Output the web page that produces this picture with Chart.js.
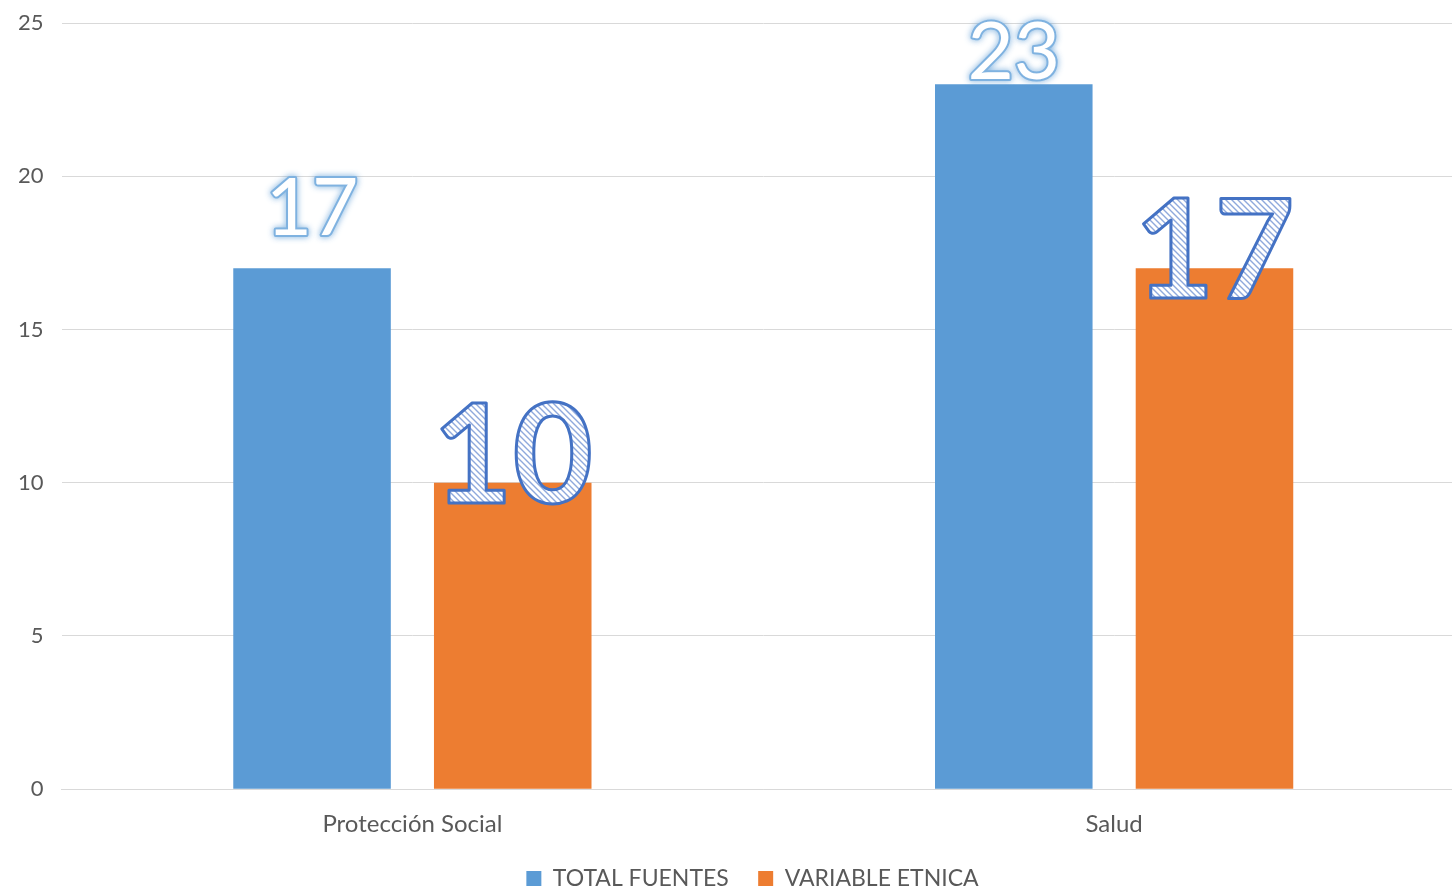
<!DOCTYPE html>
<html>
<head>
<meta charset="utf-8">
<script src="https://cdn.jsdelivr.net/npm/chart.js@4"></script>
<style>
  html, body { margin: 0; padding: 0; background: #fff; overflow: hidden; }
  #wrap { width: 1465px; height: 890px; }
</style>
</head>
<body>
<div id="wrap"><canvas id="graphCanvas"></canvas></div>
<script>
let categories = ['Protección Social', 'Salud'];
let totalFuentes = [17, 23];
let variableEtnica = [10, 17];
let yTicks = [0, 5, 10, 15, 20, 25];

function hatchPattern() {
    let c = document.createElement('canvas');
    c.width = 6;
    c.height = 6;
    let g = c.getContext('2d');
    g.fillStyle = '#ffffff';
    g.fillRect(0, 0, 6, 6);
    g.strokeStyle = '#8fa9dc';
    g.lineWidth = 1.4;
    g.beginPath();
    g.moveTo(0, 0); g.lineTo(6, 6);
    g.moveTo(-3, 3); g.lineTo(3, 9);
    g.moveTo(3, -3); g.lineTo(9, 3);
    g.stroke();
    return g.createPattern(c, 'repeat');
}

// nudge the legend down and under the plot area
let legendShift = {
    id: 'legendShift',
    afterLayout(chart) {
        let lg = chart.legend;
        if (!lg) return;
        lg.top += 10;
        lg.bottom += 10;
        lg.left += 20;
        lg.right += 20;
        if (lg.legendHitBoxes) {
            lg.legendHitBoxes.forEach(function(b) { b.top += 10; b.left += 20; });
        }
    }
};

// big value labels drawn over the bars
let bigLabels = {
    id: 'bigLabels',
    afterDatasetsDraw(chart, args, opts) {
        let ctx = chart.ctx;
        let pattern = hatchPattern();
        chart.data.datasets.forEach(function(ds, di) {
            let meta = chart.getDatasetMeta(di);
            meta.data.forEach(function(bar, i) {
                let txt = String(ds.data[i]);
                ctx.save();
                ctx.textAlign = 'center';
                ctx.textBaseline = 'alphabetic';
                if (di === 0) {
                    ctx.font = '80px Lato';
                    let y = bar.y + opts.offsets0[i];
                    ctx.shadowColor = 'rgba(91,155,213,0.9)';
                    ctx.shadowBlur = 6;
                    ctx.lineWidth = 4;
                    ctx.lineJoin = 'round';
                    ctx.strokeStyle = '#7fb2e0';
                    ctx.strokeText(txt, bar.x, y);
                    ctx.shadowBlur = 0;
                    ctx.fillStyle = '#ffffff';
                    ctx.fillText(txt, bar.x, y);
                } else {
                    ctx.font = 'bold 138px Lato';
                    let y = bar.y + opts.offsets1[i];
                    ctx.fillStyle = pattern;
                    ctx.fillText(txt, bar.x, y);
                    ctx.lineWidth = 3;
                    ctx.lineJoin = 'round';
                    ctx.strokeStyle = '#4472c4';
                    ctx.strokeText(txt, bar.x, y);
                }
                ctx.restore();
            });
        });
    }
};

let chartdata = {
    labels: categories,
    datasets: [{
        label: 'TOTAL FUENTES',
        backgroundColor: '#5b9bd5',
        data: totalFuentes
    }, {
        label: 'VARIABLE ETNICA',
        backgroundColor: '#ed7d31',
        data: variableEtnica
    }]
};

let graphTarget = document.getElementById('graphCanvas');
let barGraph = new Chart(graphTarget, {
    type: 'bar',
    data: chartdata,
    plugins: [legendShift, bigLabels],
    options: {
        responsive: true,
        maintainAspectRatio: false,
        animation: false,
        categoryPercentage: 0.572,
        barPercentage: 0.785,
        layout: { padding: { top: 23, right: 0, left: 0, bottom: 0 } },
        scales: {
            x: {
                grid: { display: false },
                border: { color: '#d9d9d9', width: 1 },
                ticks: { color: '#595959', font: { family: 'Lato', size: 24 }, padding: 13 },
                afterFit: function(axis) { axis.height += 5; }
            },
            y: {
                min: 0,
                max: 25,
                afterBuildTicks: function(axis) {
                    axis.ticks = yTicks.map(function(v) { return { value: v }; });
                },
                afterFit: function(axis) { axis.paddingTop = 0; },
                grid: { color: '#d9d9d9', drawTicks: false },
                border: { display: false },
                ticks: { color: '#595959', font: { family: 'Lato', size: 22 }, padding: 18 }
            }
        },
        plugins: {
            legend: {
                position: 'bottom',
                labels: {
                    color: '#595959',
                    font: { family: 'Lato', size: 23 },
                    boxWidth: 15,
                    boxHeight: 15,
                    padding: 0,
                    generateLabels: function(chart) {
                        let items = Chart.defaults.plugins.legend.labels.generateLabels(chart);
                        items.forEach(function(it, i) {
                            if (i < items.length - 1) it.text = it.text + '     ';
                        });
                        return items;
                    }
                }
            },
            tooltip: { enabled: false },
            bigLabels: {
                offsets0: [-33, -5],
                offsets1: [20, 30]
            }
        }
    }
});
</script>
</body>
</html>
